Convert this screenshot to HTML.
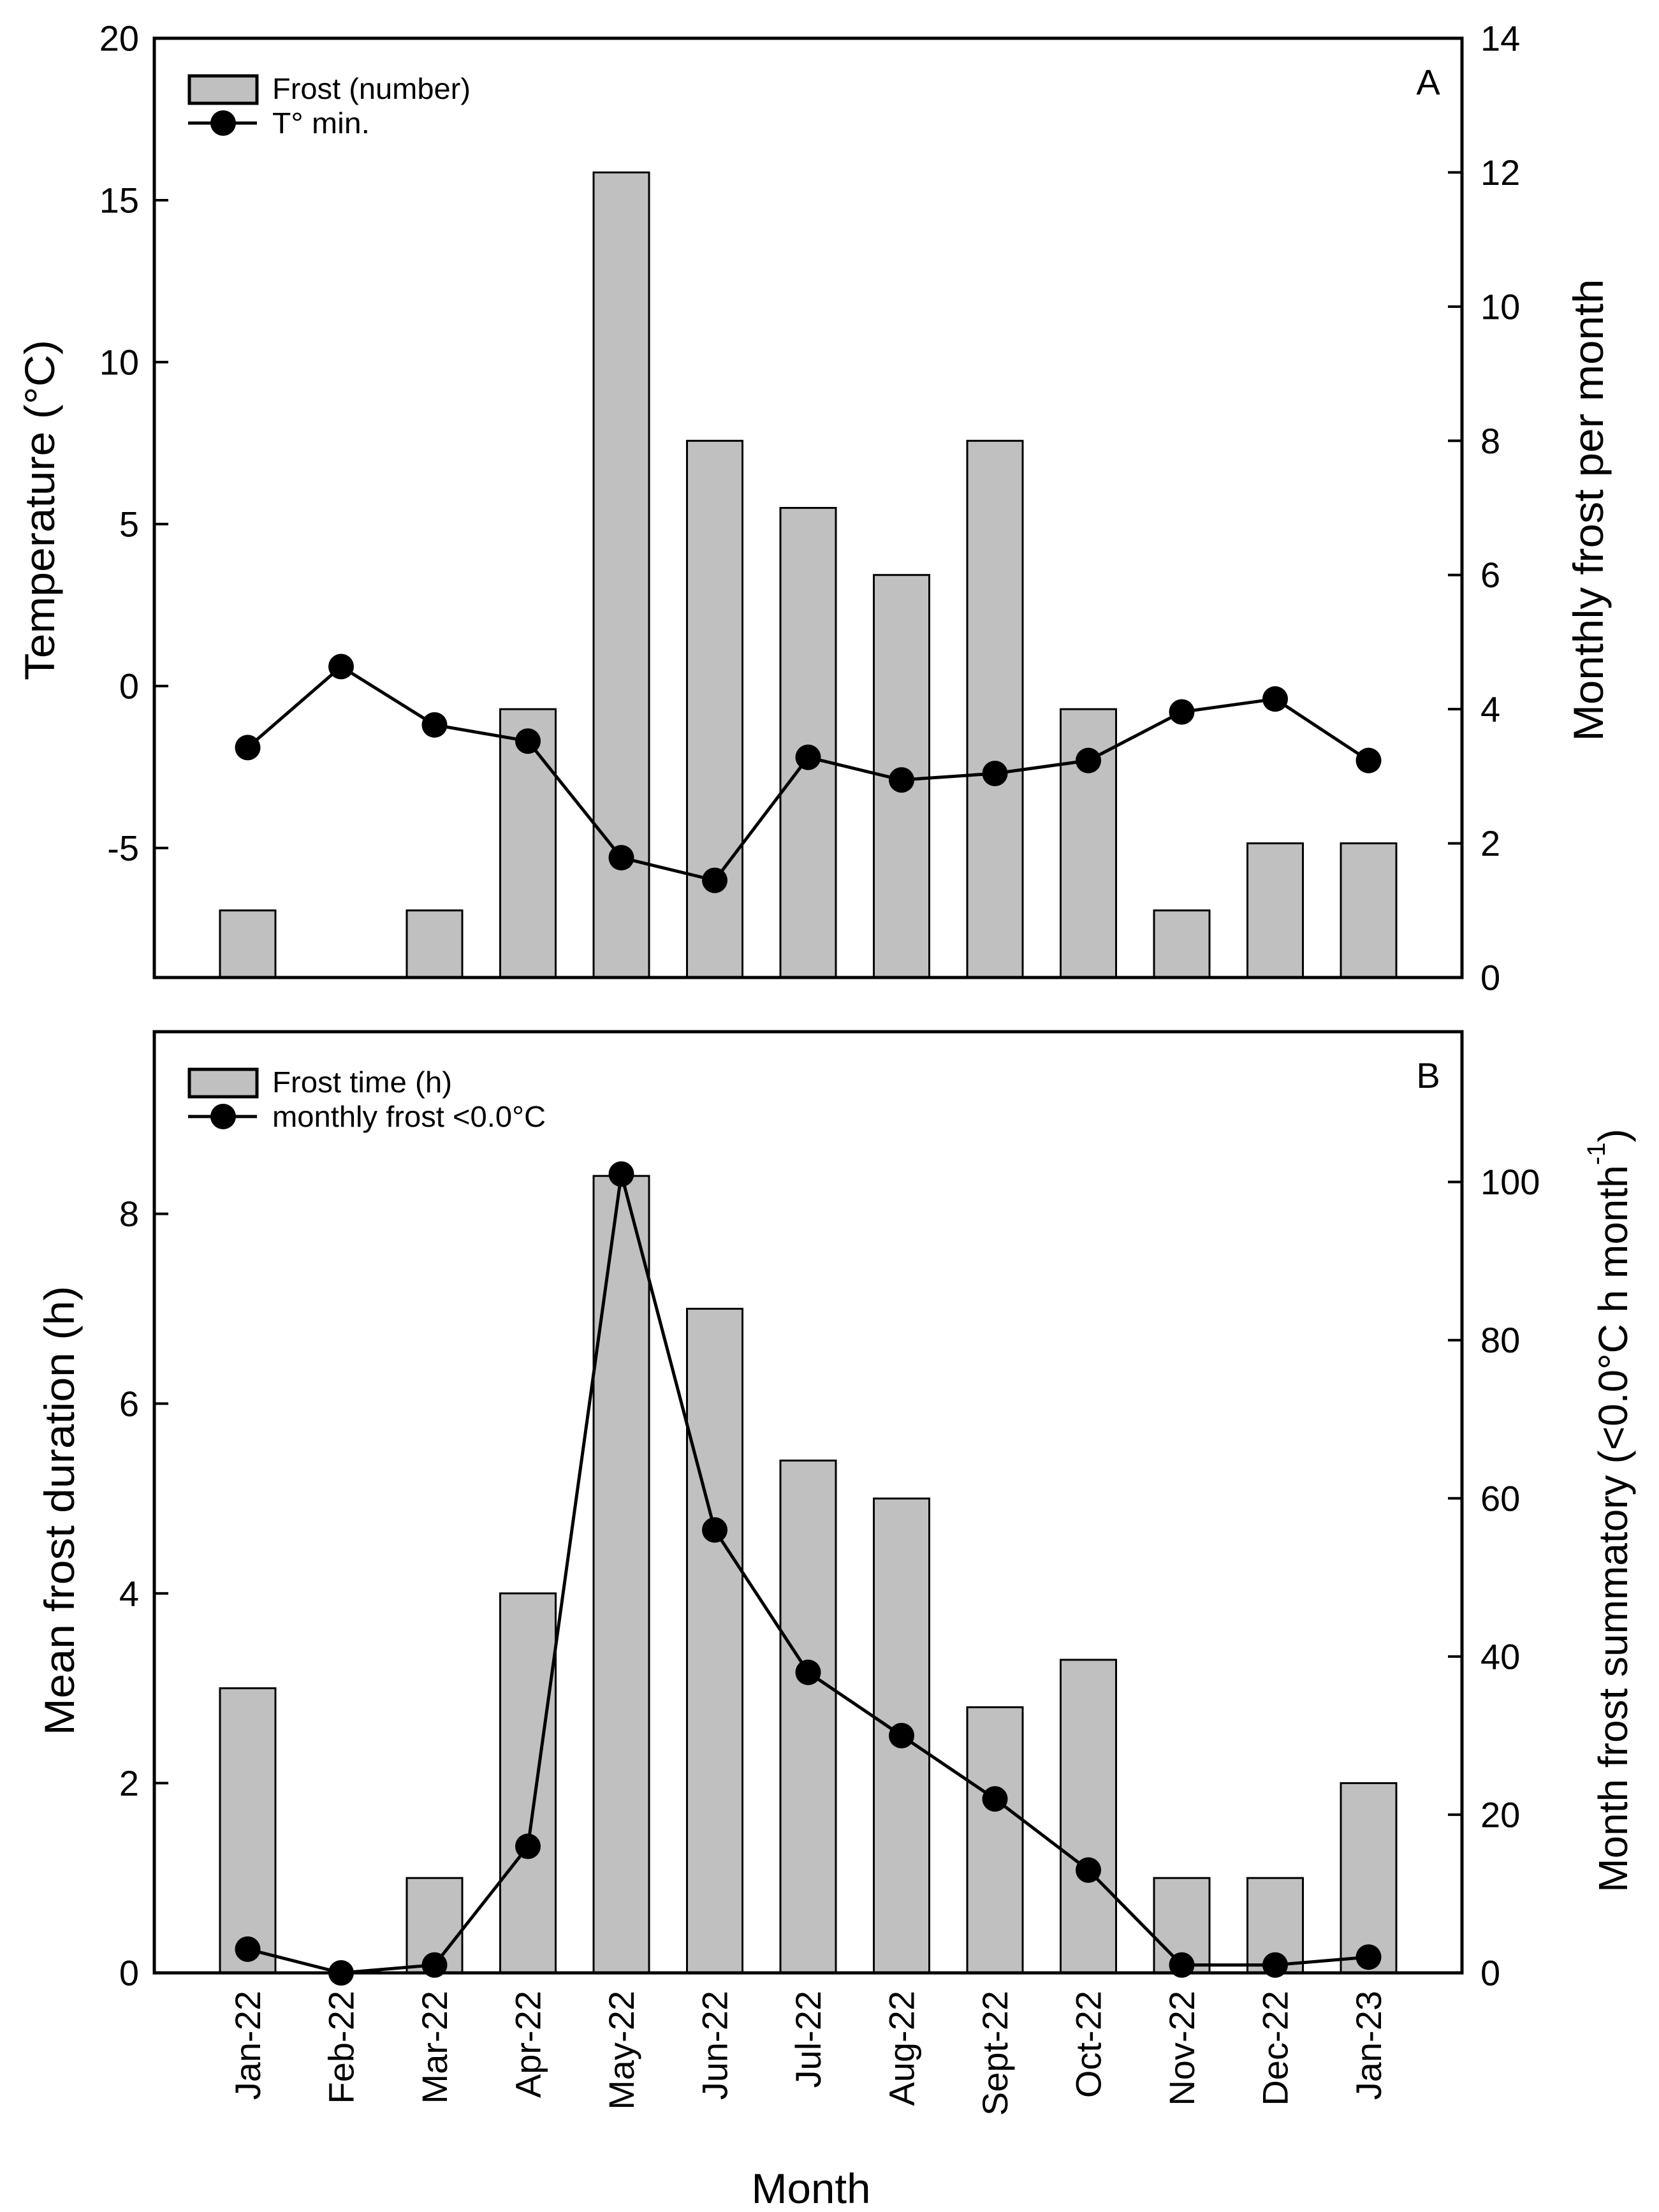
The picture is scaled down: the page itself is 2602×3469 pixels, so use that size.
<!DOCTYPE html>
<html><head><meta charset="utf-8">
<style>
html,body{margin:0;padding:0;background:#fff;}
svg{display:block;font-family:"Liberation Sans",Arial,sans-serif;}
</style></head>
<body>
<svg id="chart" width="2602" height="3469" viewBox="0 0 2602 3469" xmlns="http://www.w3.org/2000/svg">
<rect x="0" y="0" width="2602" height="3469" fill="#fff"/>
<g id="pa"></g>
<g id="pb"></g>
</svg>
<script>
const months = ["Jan-22","Feb-22","Mar-22","Apr-22","May-22","Jun-22","Jul-22","Aug-22","Sept-22","Oct-22","Nov-22","Dec-22","Jan-23"];
const frostCount = [1,0,1,4,12,8,7,6,8,4,1,2,2];
const tempMin = [-1.9,0.6,-1.2,-1.7,-5.3,-6.0,-2.2,-2.9,-2.7,-2.3,-0.8,-0.4,-2.3];
const frostHours = [3,0,1,4,8.4,7,5.4,5,2.8,3.3,1,1,2];
const frostSum = [3,0,1,16,101,56,38,30,22,13,1,1,2];
const ticksTempA = [-5,0,5,10,15,20];
const ticksFrostA = [0,2,4,6,8,10,12,14];
const ticksHoursB = [0,2,4,6,8];
const ticksSumB = [0,20,40,60,80,100];

const NS = "http://www.w3.org/2000/svg";
function mk(parent, tag, attrs, text){
  const e = document.createElementNS(NS, tag);
  for (const k in attrs) e.setAttribute(k, attrs[k]);
  if (text !== undefined) e.textContent = text;
  parent.appendChild(e);
  return e;
}
const X0 = 242, X1 = 2293;
function xPos(i){ return X0 + (X1 - X0) * (i + 1) / (months.length + 1); }
const barW = 87;

function drawPanel(g, top, bot, lMin, lMax, rMin, rMax, lTicks, rTicks, bars, barsOnRight, line, lineOnRight, letter, leg1, leg1Len, leg2, leg2Len){
  const yL = v => bot - (v - lMin) / (lMax - lMin) * (bot - top);
  const yR = v => bot - (v - rMin) / (rMax - rMin) * (bot - top);
  const yBar = barsOnRight ? yR : yL;
  const yLine = lineOnRight ? yR : yL;
  const base = barsOnRight ? yR(0) : yL(0);
  bars.forEach((v, i) => {
    if (v <= 0) return;
    const r = mk(g, "rect", {x: xPos(i) - barW/2, y: yBar(v), width: barW, height: base - yBar(v), fill: "#c0c0c0", stroke: "#000", "stroke-width": 3});
    
    
  });
  const pts = line.map((v, i) => xPos(i) + "," + yLine(v)).join(" ");
  const pl = mk(g, "polyline", {points: pts, fill: "none", stroke: "#000", "stroke-width": 5});
  
  
  line.forEach((v, i) => {
    const c = mk(g, "circle", {cx: xPos(i), cy: yLine(v), r: 20, fill: "#000"});
    
    
  });
  const fr = mk(g, "rect", {x: X0, y: top, width: X1 - X0, height: bot - top, fill: "none", stroke: "#000", "stroke-width": 5});
  
  
  lTicks.forEach(t => {
    const y = yL(t);
    mk(g, "line", {x1: X0, x2: X0 + 22, y1: y, y2: y, stroke: "#000", "stroke-width": 4});
    const tx = mk(g, "text", {x: 218, y: y, "font-size": 56, "text-anchor": "end", "dominant-baseline": "central"}, String(t));
    
    
  });
  rTicks.forEach(t => {
    const y = yR(t);
    mk(g, "line", {x1: X1 - 22, x2: X1, y1: y, y2: y, stroke: "#000", "stroke-width": 4});
    const tx = mk(g, "text", {x: 2322, y: y, "font-size": 56, "text-anchor": "start", "dominant-baseline": "central"}, String(t));
    
    
  });
  const lt = mk(g, "text", {x: 2240, y: top + 88, "font-size": 56, "text-anchor": "middle"}, letter);
  
  
  const ly = top + 59;
  const lb = mk(g, "rect", {x: 297, y: ly, width: 106, height: 43, fill: "#c0c0c0", stroke: "#000", "stroke-width": 5});
  
  
  const t1 = mk(g, "text", {x: 427, y: ly + 36, "font-size": 46, textLength: leg1Len, lengthAdjust: "spacingAndGlyphs"}, leg1);
  
  
  const lly = ly + 74;
  mk(g, "line", {x1: 295, x2: 403, y1: lly, y2: lly, stroke: "#000", "stroke-width": 5});
  const lc = mk(g, "circle", {cx: 350, cy: lly, r: 20, fill: "#000"});
  
  
  const t2 = mk(g, "text", {x: 427, y: lly + 16, "font-size": 46, textLength: leg2Len, lengthAdjust: "spacingAndGlyphs"}, leg2);
  
  
  return {yL, yR};
}

const ga = document.getElementById("pa");
drawPanel(ga, 60, 1533, -9, 20, 0, 14, ticksTempA, ticksFrostA, frostCount, true, tempMin, false, "A", "Frost (number)", 311, "T° min.", 153);
const gb = document.getElementById("pb");
drawPanel(gb, 1618, 3094, 0, 9.92, 0, 119, ticksHoursB, ticksSumB, frostHours, false, frostSum, true, "B", "Frost time (h)", 282, "monthly frost <0.0°C", 429);

months.forEach((m, i) => {
  const x = xPos(i);
  const t = mk(gb, "text", {x: 0, y: 0, "font-size": 56, "text-anchor": "end", "dominant-baseline": "central", transform: "translate(" + x + ",3122) rotate(-90)"}, m);
  
  
});

const svg = document.getElementById("chart");
function title(txt, x, y, rot, len, name){
  const t = mk(svg, "text", {x: 0, y: 0, "font-size": 66, "text-anchor": "middle", "dominant-baseline": "central", transform: "translate(" + x + "," + y + ") rotate(" + rot + ")", textLength: len, lengthAdjust: "spacingAndGlyphs"}, txt);
  
  
  return t;
}
title("Temperature (°C)", 62, 800, -90, 534, "y-axis-title-left-a");
title("Monthly frost per month", 2491, 800, -90, 725, "y-axis-title-right-a");
title("Mean frost duration (h)", 93, 2369, -90, 705, "y-axis-title-left-b");
title("Month", 1272, 3432, 0, 187, "x-axis-title");
const rb = mk(svg, "text", {x: 0, y: 0, "font-size": 64, "text-anchor": "middle", "dominant-baseline": "central", transform: "translate(2530,2369) rotate(-90)"});


mk(rb, "tspan", {}, "Month frost summatory (<0.0°C h month");
mk(rb, "tspan", {"font-size": 40, dy: -26}, "-1");
mk(rb, "tspan", {dy: 26}, ")");
</script>
</body></html>
